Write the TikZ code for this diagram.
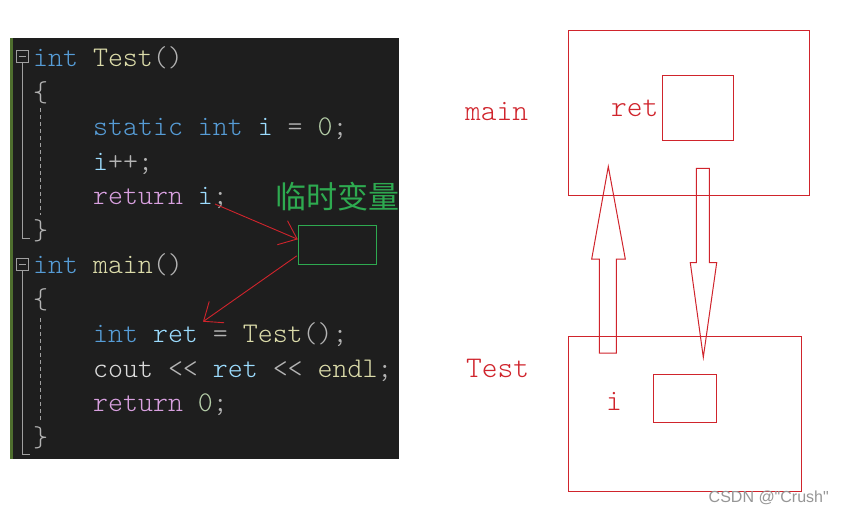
\documentclass[tikz,border=0pt]{standalone}
\usepackage{fontspec}
\newfontfamily\cjkfont{Noto Sans CJK SC}
\newfontfamily\wmfont{Liberation Sans}
\newfontfamily\codefont{Latin Modern Mono Light}
\usetikzlibrary{arrows.meta,calc}
\definecolor{panelbg}{HTML}{1E1E1E}
\definecolor{stripe}{HTML}{4E6E2E}
\definecolor{kwblue}{HTML}{569CD6}
\definecolor{varblue}{HTML}{9CDCFE}
\definecolor{fnyellow}{HTML}{DCDCAA}
\definecolor{ctlpink}{HTML}{D8A0DF}
\definecolor{numgreen}{HTML}{B5CEA8}
\definecolor{punctgray}{HTML}{B4B4B4}
\definecolor{plaintext}{HTML}{DCDCDC}
\definecolor{guttergray}{HTML}{A0A0A0}
\definecolor{tmpgreen}{RGB}{46,170,80}
\definecolor{drawred}{RGB}{208,36,44}
\definecolor{wmgray}{RGB}{150,150,150}
\newcommand\ckw[1]{\textcolor{kwblue}{#1}}
\newcommand\cva[1]{\textcolor{varblue}{#1}}
\newcommand\cfn[1]{\textcolor{fnyellow}{#1}}
\newcommand\cct[1]{\textcolor{ctlpink}{#1}}
\newcommand\cnu[1]{\textcolor{numgreen}{#1}}
\newcommand\cpu[1]{\textcolor{punctgray}{#1}}
\newcommand\cde[1]{\textcolor{plaintext}{#1}}
\tikzset{
  codeline/.style={inner sep=0pt, anchor=base west, font=\codefont\fontsize{28.5pt}{34pt}\selectfont},
  redlabel/.style={inner sep=0pt, anchor=base west, text=drawred, font=\codefont\fontsize{30pt}{34pt}\selectfont},
  redbox/.style={draw=drawred, line width=1pt, rectangle, inner sep=0pt},
  bigarrow/.style={draw=drawred, line width=1pt, line join=miter},
  redconn/.style={draw=drawred, line width=0.9pt, -{Straight Barb[length=16pt,width=26pt]}},
  gutter/.style={draw=guttergray, line width=1pt},
  guide/.style={draw=guttergray, line width=0.9pt, dash pattern=on 4pt off 3pt},
}
\begin{document}
\begin{tikzpicture}[x=1pt,y=-1pt]
\useasboundingbox (0,0) rectangle (843,512);
\fill[white] (0,0) rectangle (843,512);
% code panel
\fill[panelbg] (10,37.5) rectangle (399,459);
\fill[stripe] (10,37.5) rectangle (12.5,459);
% fold gutter, block 1
\draw[gutter] (16.5,50.5) rectangle (28.5,62.5);
\draw[gutter] (19,56.5) -- (26,56.5);
\draw[gutter] (22.5,62.5) -- (22.5,238) -- (30,238);
\draw[guide] (40,108) -- (40,215);
% fold gutter, block 2
\draw[gutter] (16.5,258.5) rectangle (28.5,270.5);
\draw[gutter] (19,264.5) -- (26,264.5);
\draw[gutter] (22.5,270.5) -- (22.5,454) -- (30,454);
\draw[guide] (40,318) -- (40,421);
% code lines
\node[codeline] (l1) at (33,66.7) {\ckw{int} \cfn{Test}\cpu{()}};
\node[codeline] (l2) at (33,101.2) {\cpu{\{}};
\node[codeline] (l3) at (93,135.7) {\ckw{static} \ckw{int} \cva{i} \cpu{=} \cnu{0}\cpu{;}};
\node[codeline] (l4) at (93,170.2) {\cva{i}\cpu{++;}};
\node[codeline] (l5) at (93,204.7) {\cct{return} \cva{i}\cpu{;}};
\node[codeline] (l6) at (33,239.2) {\cpu{\}}};
\node[codeline] (l7) at (33,273.7) {\ckw{int} \cfn{main}\cpu{()}};
\node[codeline] (l8) at (33,308.2) {\cpu{\{}};
\node[codeline] (l9) at (93,342.7) {\ckw{int} \cva{ret} \cpu{=} \cfn{Test}\cpu{();}};
\node[codeline] (l10) at (93,377.2) {\cde{cout} \cpu{<\kern0pt<} \cva{ret} \cpu{<\kern0pt<} \cfn{endl}\cpu{;}};
\node[codeline] (l11) at (93,411.7) {\cct{return} \cnu{0}\cpu{;}};
\node[codeline] (l12) at (33,446.2) {\cpu{\}}};
% temporary variable
\begin{scope}
\clip (10,37.5) rectangle (399,459);
\node[inner sep=0pt, anchor=base west, text=tmpgreen, font=\cjkfont\fontsize{31pt}{34pt}\selectfont] (tmplabel) at (275.5,208) {临时变量};
\end{scope}
\node[draw=tmpgreen, line width=1pt, rectangle, inner sep=0pt, minimum width=78.4pt, minimum height=39.3pt] (tmp) at (337.5,244.7) {};
\coordinate (retsrc) at (215,204);
\coordinate (retdst) at (203,321.7);
\draw[redconn] (retsrc) -- ($(tmp.west)+(0,-5.4)$);
\draw[redconn] ($(tmp.south west)+(-1,-9)$) -- (retdst);
% right: stack frames
\node[redbox, minimum width=241pt, minimum height=165pt] (mainbox) at (688.5,112.5) {};
\node[redbox, minimum width=71pt, minimum height=65pt] (retbox) at (697.5,107.5) {};
\node[redbox, minimum width=233.7pt, minimum height=154.3pt] (testbox) at (684.9,413.9) {};
\node[redbox, minimum width=63pt, minimum height=48pt] (ibox) at (684.8,398.3) {};
\node[redlabel] (mainlabel) at (465,120) {main};
\node[redlabel] (retlabel) at (611,116.7) {ret};
\node[redlabel] (testlabel) at (466,377.7) {Test};
\node[redlabel] (ilabel) at (606,410.7) {i};
% big arrows
\draw[bigarrow] (608.3,166.5) -- (625.3,259) -- (616.3,259) -- (616.3,353) -- (599.3,353) -- (599.3,259) -- (591.7,259) -- cycle;
\draw[bigarrow] (696.3,168.3) -- (709.3,168.3) -- (709.3,262.7) -- (716.7,262.7) -- (703.3,357.3) -- (690.3,262.7) -- (696.3,262.7) -- cycle;
% watermark
\node[inner sep=0pt, anchor=base east, text=wmgray, font=\wmfont\fontsize{16pt}{18pt}\selectfont] (wm) at (829,502) {CSDN @"Crush"};
\end{tikzpicture}
\end{document}
